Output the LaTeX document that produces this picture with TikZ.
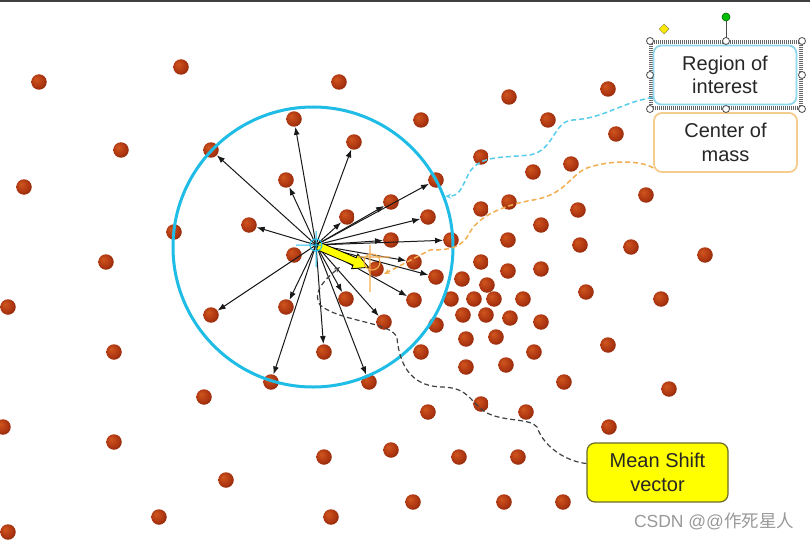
\documentclass[tikz,border=0pt]{standalone}
\usepackage{fontspec}
\setmainfont{Liberation Sans}
\newfontfamily\cjkfont{Noto Sans CJK SC}
\usetikzlibrary{arrows.meta,shapes.geometric}
\definecolor{dotred}{HTML}{B03812}
\definecolor{dotlite}{HTML}{D0561E}
\definecolor{dotdark}{HTML}{741C05}
\definecolor{roiblue}{HTML}{1FBCE6}
\definecolor{roiedge}{HTML}{8FD8EE}
\definecolor{comorange}{HTML}{F2AE50}
\definecolor{comedge}{HTML}{F5CC8C}
\definecolor{msyellow}{HTML}{FFFF00}
\definecolor{msedge}{HTML}{6B6B2A}
\pgfdeclareradialshading{dotball}{\pgfpoint{-10bp}{10bp}}{color(0bp)=(dotlite);color(20bp)=(dotred);color(40bp)=(dotdark);color(50bp)=(dotdark)}
\tikzset{dot/.style={circle,minimum size=15.5pt,inner sep=0pt,shade,shading=dotball},vec/.style={-{Latex[length=8pt,width=6pt]},line width=1pt,black!90},labelbox/.style={draw,fill=white,rounded corners=8pt,line width=1.8pt,minimum width=143pt,minimum height=59pt,align=center,font=\fontsize{20}{23.5}\selectfont,text=black!85},callout/.style={line width=1.5pt,dash pattern=on 5pt off 3pt,-{Stealth[length=6pt,width=5pt]}},handle/.style={circle,draw=black!70,fill=white,line width=0.8pt,minimum size=7pt,inner sep=0pt}}

\begin{document}
\begin{tikzpicture}[x=1pt,y=-1pt]
\useasboundingbox (0,0) rectangle (810,540);
\fill[white] (0,0) rectangle (810,540);
\draw[line width=2pt,black!75] (0,1) -- (810,1);
% points that get no vector
\foreach \x/\y [count=\i] in {39/82,181/67,339/82,509/97,608/89,121/150,24/187,421/120,548/120,616/134,481/157,571/164,533/172,646/195,481/209,509/202,578/210,174/232,541/225,508/240,580/245,631/247,705/255,106/262,294/255,481/262,376/269,462/279,508/271,541/269,487/285,586/292,451/299,474/299,494/299,523/299,661/299,8/307,463/315,486/315,510/318,541/322,436/325,466/339,496/337,114/352,421/352,534/352,608/345,466/367,506/365,564/382,669/389,204/397,481/404,526/412,428/412,3/427,114/442,609/427,324/457,391/450,459/457,518/457,226/480,331/517,413/502,504/502,563/502,159/517,8/532}
  \node[dot] (p\i) at (\x,\y) {};
% points inside the window
\foreach \x/\y [count=\i] in {294/119,211/150,354/142,286/180,436/180,391/202,347/217,428/217,249/225,391/240,451/240,414/262,436/277,414/300,211/315,286/307,346/299,384/322,324/352,271/382,369/382}
  \node[dot] (w\i) at (\x,\y) {};
\node[circle,draw=roiblue,line width=3pt,minimum size=280pt,inner sep=0pt] (window) at (313,247) {};
\coordinate (c) at (316,245);
\coordinate (mass) at (372,262);
\foreach \i in {1,...,21}{\draw[vec] (c) -- (w\i);}
% mean shift vector
\begin{scope}[shift={(c)},rotate=-23]
\filldraw[fill=msyellow,draw=black,line width=0.8pt] (2,-4) -- (42,-4) -- (42,-8) -- (57,0) -- (42,8) -- (42,4) -- (2,4) -- cycle;
\end{scope}
\draw[roiblue,line width=1pt] (c) circle (6pt) ([xshift=-20pt]c) -- ([xshift=6pt]c) ([yshift=14pt]c) -- ([yshift=-22pt]c);
\draw[comorange,line width=1.1pt] (mass) circle (8pt) ([xshift=-14pt,yshift=5pt]mass) -- ([xshift=18pt,yshift=5pt]mass) ([xshift=-2pt,yshift=17pt]mass) -- ([xshift=-2pt,yshift=-30pt]mass);
% labels
\draw[black!60,line width=4.5pt,dash pattern=on 1pt off 1pt] (651,42) rectangle (801,108);
\node[labelbox,draw=roiedge] (roi) at (725,75) {Region of\\interest};
\node[labelbox,draw=comedge] (com) at (725.5,142.5) {Center of\\mass};
\node[labelbox,draw=msedge,fill=msyellow,line width=1.2pt,minimum width=141pt] (ms) at (657.5,472.5) {Mean Shift\\vector};
\coordinate (tip) at (340,267);
\draw[callout,roiblue!75] ([yshift=8pt]roi.south west) .. controls (620,103) and (605,118) .. (573,120) .. controls (553,121) and (555,150) .. (530,155) .. controls (500,158) and (478,155) .. (468,175) .. controls (460,192) and (458,196) .. (window.21);
\draw[callout,comorange] ([yshift=5pt]com.south west) .. controls (640,160) and (610,160) .. (587,168) .. controls (570,175) and (565,195) .. (533,200) .. controls (505,205) and (480,215) .. (470,232) .. controls (462,248) and (450,250) .. (430,250) -- ([xshift=12pt,yshift=-12pt]mass);
\draw[callout,black!75,line width=1.2pt] ([yshift=9pt]ms.west) .. controls (570,462) and (545,450) .. (537,427) .. controls (530,418) and (505,422) .. (487,413) .. controls (470,403) and (470,388) .. (443,387) .. controls (415,387) and (400,370) .. (397,338) .. controls (393,322) and (340,322) .. (320,305) .. controls (314,295) and (318,285) .. (tip);
% selection handles
\foreach \x/\y in {650/41,726/41,802/41,650/75,802/75,650/109,726/109,802/109}
  \node[handle] at (\x,\y) {};
\draw[black!70,line width=1pt] (726,21) -- (726,38);
\node[circle,fill=green!75!black,draw=green!40!black,line width=0.6pt,minimum size=8pt,inner sep=0pt] (rot) at (726,17) {};
\node[diamond,fill=yellow!90!orange,draw=yellow!50!black,line width=0.5pt,minimum size=10pt,inner sep=0pt] (adj) at (664,29) {};
\node[text=black!40,font=\fontsize{17.5}{17.5}\selectfont] (mark) at (714,521) {CSDN @@{\cjkfont 作死星人}};
\end{tikzpicture}
\end{document}
